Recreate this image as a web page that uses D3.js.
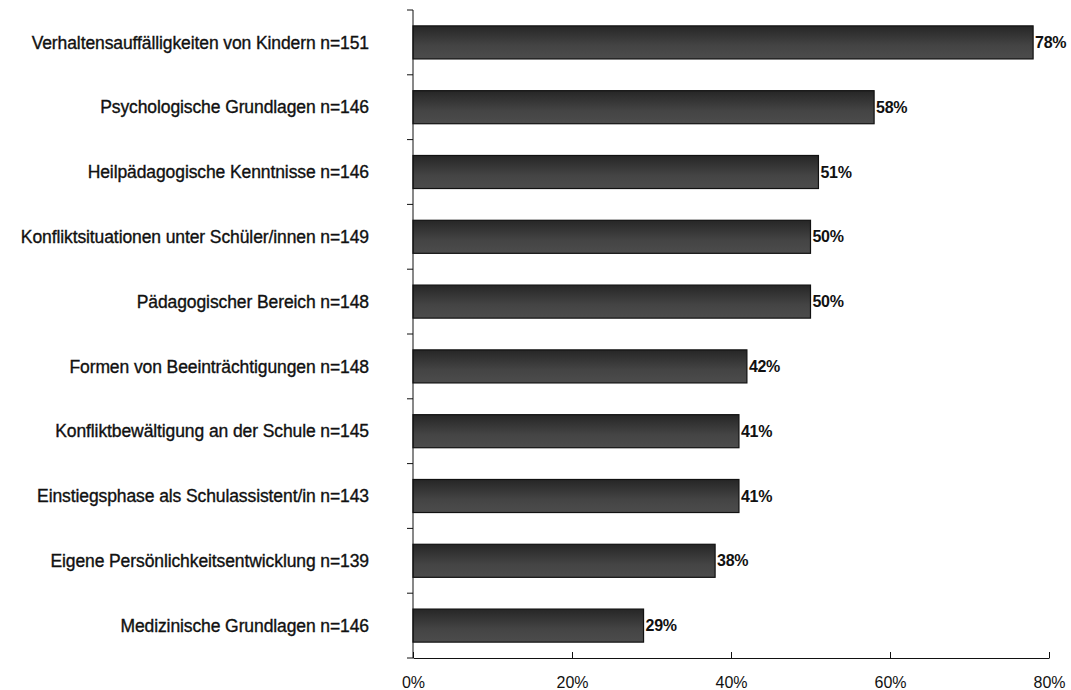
<!DOCTYPE html>
<html lang="de">
<head>
<meta charset="UTF-8">
<title>Fortbildungsbedarf</title>
<script src="https://d3js.org/d3.v7.min.js"></script>
<style>
  body { margin: 0; background: #fff; font-family: "Liberation Sans", Arial, sans-serif; }
  .cat { font-size: 17.5px; fill: #111; stroke: #111; stroke-width: 0.35px; letter-spacing: -0.1px; }
  .val { font-size: 16px; font-weight: bold; fill: #111; letter-spacing: -0.3px; }
  .tick text { font-size: 16px; fill: #111; }
</style>
</head>
<body>
<svg width="1071" height="690"></svg>
<script>
const categories = [
  "Verhaltensauffälligkeiten von Kindern n=151",
  "Psychologische Grundlagen n=146",
  "Heilpädagogische Kenntnisse n=146",
  "Konfliktsituationen unter Schüler/innen n=149",
  "Pädagogischer Bereich n=148",
  "Formen von Beeinträchtigungen n=148",
  "Konfliktbewältigung an der Schule n=145",
  "Einstiegsphase als Schulassistent/in n=143",
  "Eigene Persönlichkeitsentwicklung n=139",
  "Medizinische Grundlagen n=146"
];
const values = [78, 58, 51, 50, 50, 42, 41, 41, 38, 29];
const xTicks = [0, 20, 40, 60, 80];

const svg = d3.select("svg");
const plotLeft = 413, plotRight = 1049, plotTop = 10, plotBottom = 658;

const x = d3.scaleLinear().domain([0, 80]).range([plotLeft, plotRight]);
const y = d3.scaleBand().domain(categories).range([plotTop, plotBottom]).paddingInner(0.49).paddingOuter(0.245);

const defs = svg.append("defs");
const grad = defs.append("linearGradient").attr("id", "barGrad")
  .attr("x1", 0).attr("y1", 0).attr("x2", 0).attr("y2", 1);
grad.append("stop").attr("offset", "0%").attr("stop-color", "#262626");
grad.append("stop").attr("offset", "60%").attr("stop-color", "#444");
grad.append("stop").attr("offset", "100%").attr("stop-color", "#4c4c4c");

// bars
svg.append("g").selectAll("rect")
  .data(values)
  .join("rect")
  .attr("x", x(0))
  .attr("y", (d, i) => y(categories[i]))
  .attr("width", d => x(d) - x(0))
  .attr("height", y.bandwidth())
  .attr("fill", "url(#barGrad)")
  .attr("stroke", "#111")
  .attr("stroke-width", 1.2);

// value labels
svg.append("g").selectAll("text")
  .data(values)
  .join("text")
  .attr("class", "val")
  .attr("x", d => x(d) + 2)
  .attr("y", (d, i) => y(categories[i]) + y.bandwidth() / 2)
  .attr("dy", "0.35em")
  .text(d => d + "%");

// category labels
svg.append("g").selectAll("text")
  .data(categories)
  .join("text")
  .attr("class", "cat")
  .attr("x", 369)
  .attr("y", d => y(d) + y.bandwidth() / 2)
  .attr("dy", "0.35em")
  .attr("text-anchor", "end")
  .text(d => d);

// x axis
svg.append("g")
  .attr("transform", `translate(0,${plotBottom})`)
  .call(d3.axisBottom(x).tickValues(xTicks).tickFormat(d => d + "%").tickSize(6).tickSizeOuter(0))
  .call(g => g.selectAll(".tick line").attr("y1", -6).attr("y2", 0).attr("stroke", "#111"))
  .call(g => g.selectAll(".tick text").attr("y", 30).attr("dy", 0))
  .call(g => g.select(".domain").attr("stroke", "#111"));

// y axis with ticks between categories
const boundaries = categories.map(c => y(c) - y.step() * y.paddingInner() / 2).concat([plotBottom]);
const ya = svg.append("g");
ya.append("line").attr("x1", plotLeft).attr("x2", plotLeft).attr("y1", plotTop).attr("y2", plotBottom).attr("stroke", "#111");
ya.selectAll("line.t").data(boundaries).join("line").attr("class", "t")
  .attr("x1", plotLeft - 6).attr("x2", plotLeft)
  .attr("y1", d => d).attr("y2", d => d)
  .attr("stroke", "#111");
</script>
</body>
</html>
